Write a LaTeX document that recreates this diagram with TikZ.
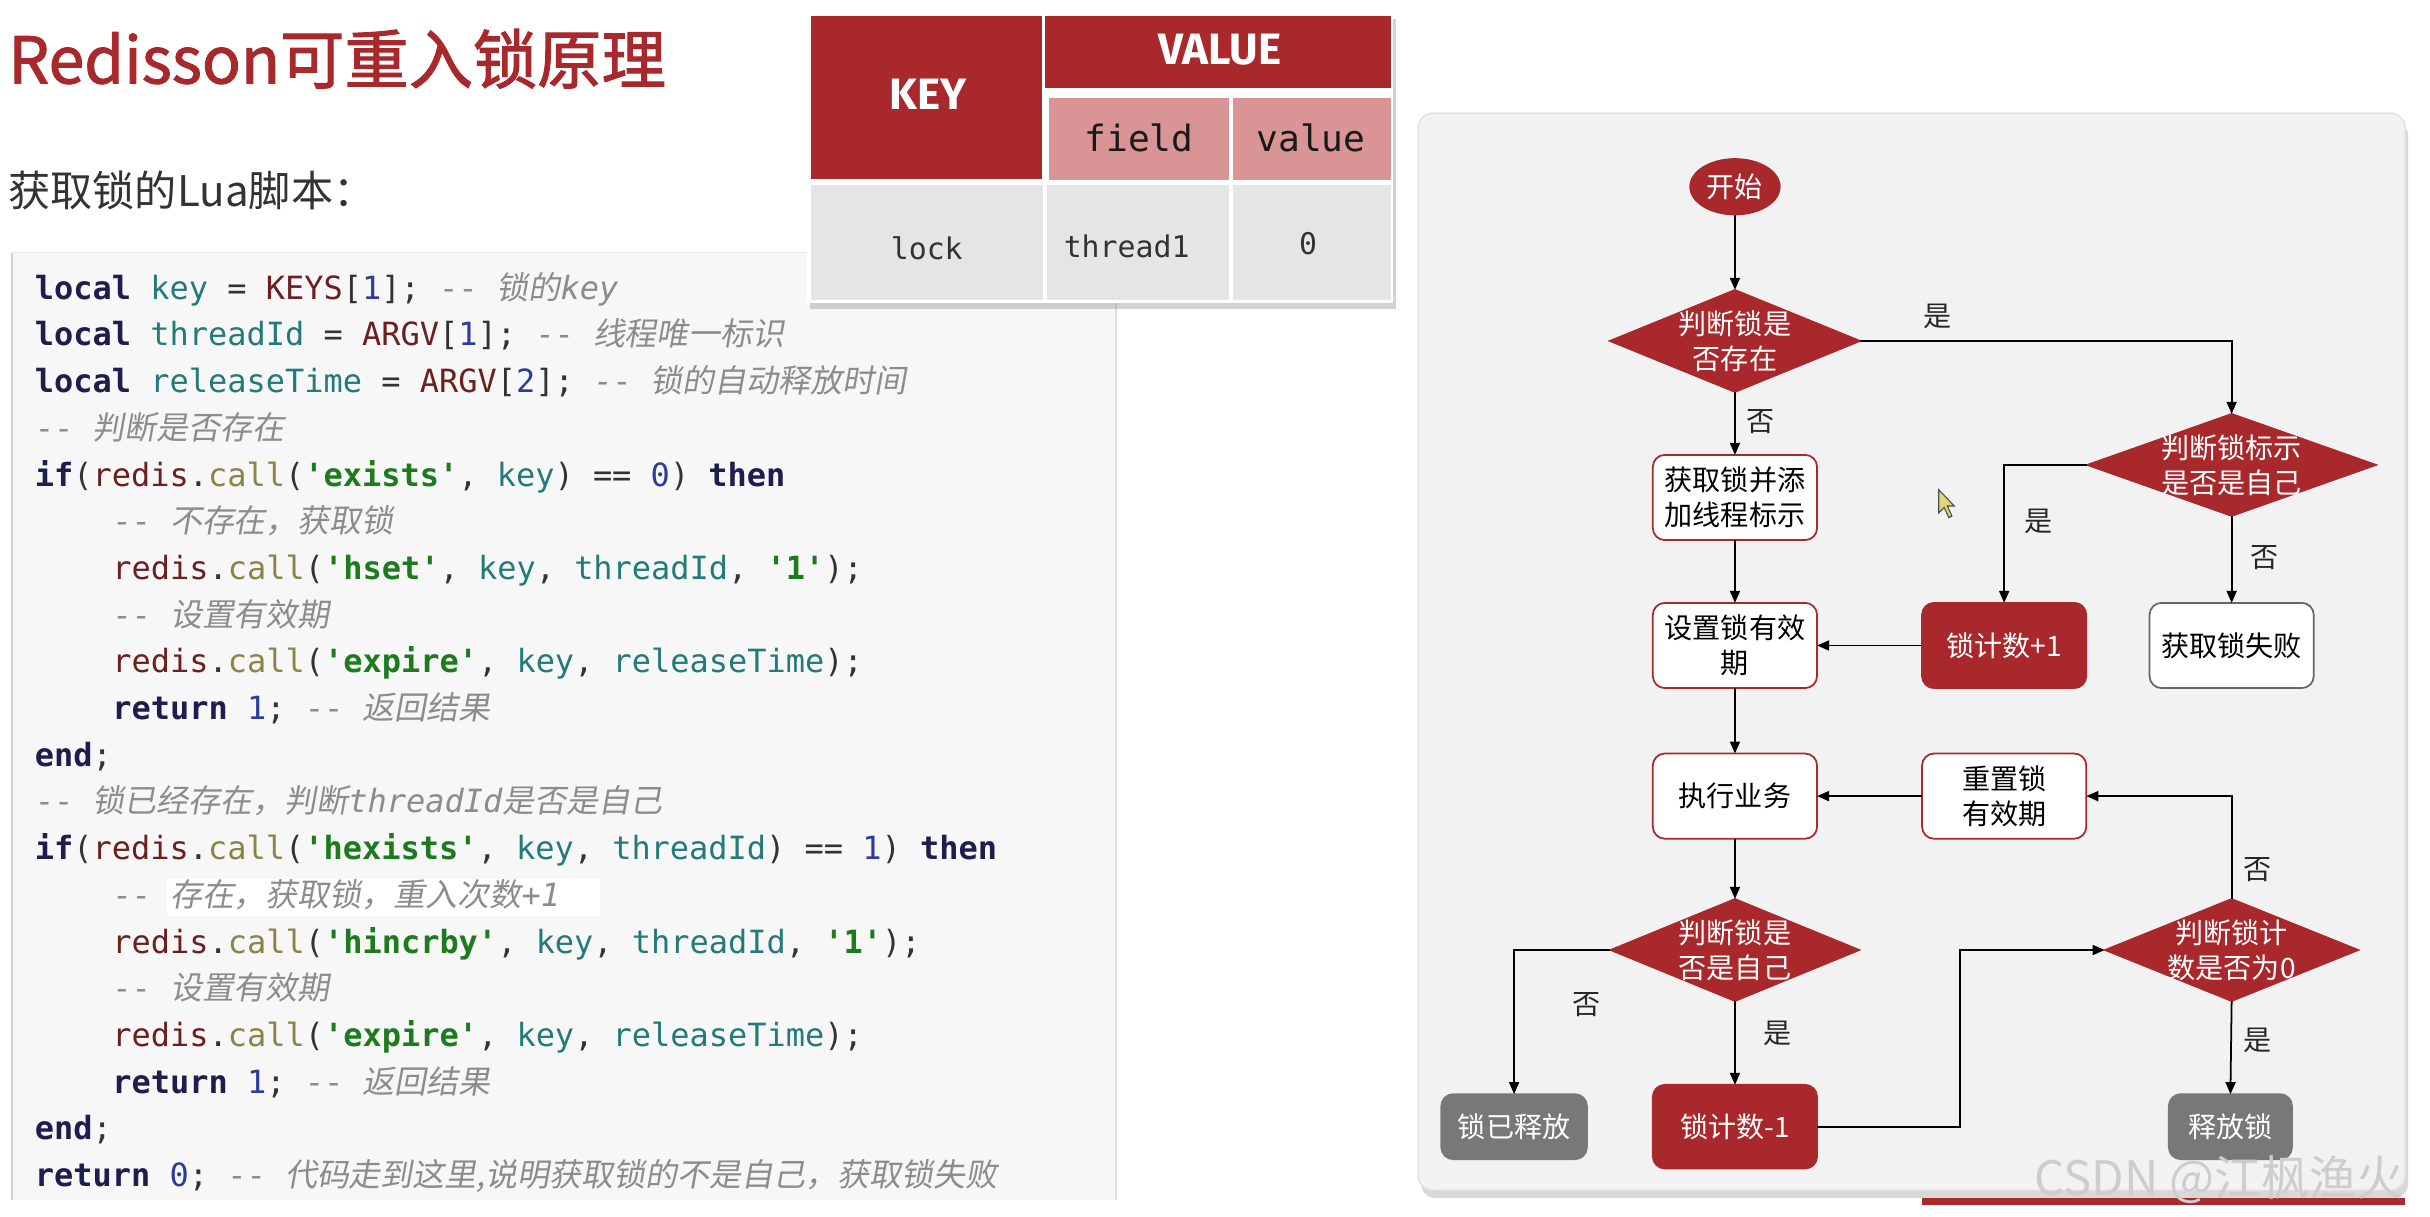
\documentclass[tikz,border=0pt]{standalone}
\usepackage{fontspec}
\setmainfont{Noto Sans CJK SC}
\setmonofont{DejaVu Sans Mono}
\newfontfamily\cjkit{Noto Sans CJK SC}[FakeSlant=0.18]
\newfontfamily\titlef{Noto Sans CJK SC}[FakeBold=1.6]
\newfontfamily\hdrfont{Fira Sans}
\usetikzlibrary{shapes.geometric,arrows.meta,shadows}
\definecolor{rd}{HTML}{A8282C}
\definecolor{pinkc}{HTML}{D99496}
\definecolor{cellg}{HTML}{E5E5E5}
\definecolor{codebg}{HTML}{F7F7F7}
\definecolor{panelbg}{HTML}{F2F2F2}
\definecolor{grayb}{HTML}{787878}
\definecolor{ckw}{HTML}{1E1E4E}
\definecolor{cvar}{HTML}{237A7A}
\definecolor{cfn}{HTML}{6B1F1F}
\definecolor{ccall}{HTML}{8A8445}
\definecolor{cstr}{HTML}{1D7A1D}
\definecolor{cnum}{HTML}{2D3C9C}
\definecolor{ccom}{HTML}{8C8C8C}
\definecolor{cpun}{HTML}{333333}
\newcommand\cdK[1]{\textcolor{ckw}{\bfseries#1}}
\newcommand\cdV[1]{\textcolor{cvar}{#1}}
\newcommand\cdR{\textcolor{cfn}{redis}.\textcolor{ccall}{call}}
\newcommand\cdA[1]{\textcolor{cfn}{#1}}
\newcommand\cdS[1]{\textcolor{cstr}{\bfseries#1}}
\newcommand\cdN[1]{\textcolor{cnum}{#1}}
\newcommand\cdC[1]{\textcolor{ccom}{-{}- #1}}
\newcommand\zh[1]{{\cjkit#1}}
\newcommand\vpx[1]{#1*0.15497mm}
\newcommand\fcfont{\fontsize{8}{10}\selectfont}
\tikzset{
  codeln/.style={anchor=base west, inner sep=0, text=cpun, font=\ttfamily\fontsize{9.1}{11}\selectfont},
  flow/.style={line width=0.5pt, -{Triangle[length=1.2mm,width=1.0mm]}},
  wbox/.style={rectangle, rounded corners=1.2mm, draw=rd, line width=0.5pt, fill=white, inner sep=0, outer sep=0, align=center, font=\fcfont, text=black, minimum width=\vpx{106}, minimum height=\vpx{55}},
  rbox/.style={wbox, fill=rd, text=white},
  gbox/.style={wbox, draw=grayb, fill=grayb, text=white, minimum height=\vpx{42}},
  fbox/.style={wbox, draw=black!60},
  dia/.style={diamond, fill=rd, draw=rd, inner sep=0, outer sep=0, minimum height=\vpx{66}},
  dtext/.style={text=white, align=center, font=\fcfont, inner sep=0},
  lbl/.style={font=\fcfont, text=black!85, inner sep=0},
  thdr/.style={text=white, inner sep=0, font=\hdrfont\bfseries\fontsize{12.5}{14}\selectfont},
  tmono/.style={inner sep=0, font=\ttfamily\fontsize{10.3}{12}\selectfont, text=black!90},
  tdata/.style={inner sep=0, font=\ttfamily\fontsize{8.5}{10}\selectfont, text=black!80},
}
\begin{document}
\begin{tikzpicture}[x=0.015497cm,y=-0.015497cm]
\useasboundingbox (0,0) rectangle (1568,784.7);
\fill[white] (0,0) rectangle (1568,784.7);

% title and subtitle
\node[anchor=base west, inner sep=0, text=rd, font=\titlef\fontsize{18.3}{20}\selectfont] (title) at (5,53.8) {Redisson可重入锁原理};
\node[anchor=base west, inner sep=0, text=black!80, font=\fontsize{12}{14}\selectfont] (sub) at (5,133) {获取锁的Lua脚本：};

% code box
\fill[codebg] (8,163) rectangle (720,774);
\draw[black!18, line width=0.6pt] (8,163) -- (8,774);
\draw[black!12] (720,163) -- (720,774);
\draw[black!8] (8,163) -- (720,163);
\fill[white] (108,567) rectangle (387,591);

\node[codeln] (c1) at (22,193.0) {\cdK{local} \cdV{key} = \cdA{KEYS}[\cdN{1}]; \cdC{\zh{锁的}\textit{key}}};
\node[codeln] (c2) at (22,223.1) {\cdK{local} \cdV{threadId} = \cdA{ARGV}[\cdN{1}]; \cdC{\zh{线程唯一标识}}};
\node[codeln] (c3) at (22,253.3) {\cdK{local} \cdV{releaseTime} = \cdA{ARGV}[\cdN{2}]; \cdC{\zh{锁的自动释放时间}}};
\node[codeln] (c4) at (22,283.4) {\cdC{\zh{判断是否存在}}};
\node[codeln] (c5) at (22,313.6) {\cdK{if}(\cdR(\cdS{'exists'}, \cdV{key}) == \cdN{0}) \cdK{then}};
\node[codeln] (c6) at (72,343.7) {\cdC{\zh{不存在，获取锁}}};
\node[codeln] (c7) at (72,373.8) {\cdR(\cdS{'hset'}, \cdV{key}, \cdV{threadId}, \cdS{'1'});};
\node[codeln] (c8) at (72,404.0) {\cdC{\zh{设置有效期}}};
\node[codeln] (c9) at (72,434.1) {\cdR(\cdS{'expire'}, \cdV{key}, \cdV{releaseTime});};
\node[codeln] (c10) at (72,464.3) {\cdK{return} \cdN{1}; \cdC{\zh{返回结果}}};
\node[codeln] (c11) at (22,494.4) {\cdK{end};};
\node[codeln] (c12) at (22,524.5) {\cdC{\zh{锁已经存在，判断}\textit{threadId}\zh{是否是自己}}};
\node[codeln] (c13) at (22,554.7) {\cdK{if}(\cdR(\cdS{'hexists'}, \cdV{key}, \cdV{threadId}) == \cdN{1}) \cdK{then}};
\node[codeln] (c14) at (72,584.8) {\cdC{\zh{存在，获取锁，重入次数}\textit{+1}}};
\node[codeln] (c15) at (72,615.0) {\cdR(\cdS{'hincrby'}, \cdV{key}, \cdV{threadId}, \cdS{'1'});};
\node[codeln] (c16) at (72,645.1) {\cdC{\zh{设置有效期}}};
\node[codeln] (c17) at (72,675.2) {\cdR(\cdS{'expire'}, \cdV{key}, \cdV{releaseTime});};
\node[codeln] (c18) at (72,705.4) {\cdK{return} \cdN{1}; \cdC{\zh{返回结果}}};
\node[codeln] (c19) at (22,735.5) {\cdK{end};};
\node[codeln] (c20) at (22,765.7) {\cdK{return} \cdN{0}; \cdC{\zh{代码走到这里,说明获取锁的不是自己，获取锁失败}}};

% table
\fill[white, drop shadow={shadow xshift=0.25mm, shadow yshift=-0.6mm, opacity=0.35}] (521,8.5) rectangle (899,195.5);
\fill[rd] (523,10.3) rectangle (672.5,115.5);
\fill[rd] (674.5,10.3) rectangle (897.8,57);
\fill[pinkc] (676.8,63.4) rectangle (792.8,116);
\fill[pinkc] (795.3,63.4) rectangle (897.8,116);
\fill[cellg] (523,119.4) rectangle (673,193.6);
\fill[cellg] (675.5,119.4) rectangle (793.3,193.6);
\fill[cellg] (795.5,119.4) rectangle (897.8,193.6);
\node[thdr] (tkey) at (599,61) {KEY};
\node[thdr] (tval) at (787,32) {VALUE};
\node[tmono] (tfield) at (735,89) {field};
\node[tmono] (tvalue) at (846,89) {value};
\node[tdata] (tlock) at (598,160) {lock};
\node[tdata] (tthr) at (727,159) {thread1};
\node[tdata] (tzero) at (844,157) {0};

% flowchart panel
\path[fill=panelbg, draw=black!12, rounded corners=1.5mm, drop shadow={shadow xshift=0.3mm, shadow yshift=-0.8mm, opacity=0.3}] (915,73) rectangle (1552,768);
\fill[rd] (1240,773) rectangle (1552,777.5);

% nodes
\node[ellipse, fill=rd, draw=rd, inner sep=0, minimum width=\vpx{58}, minimum height=\vpx{36}, text=white, font=\fcfont] (start) at (1119.5,120.5) {开始};
\node[dia, minimum width=\vpx{162}] (d1) at (1119.5,220) {};
\node[dtext] (d1t) at (d1) {判断锁是\\否存在};
\node[wbox] (b1) at (1119.5,321) {获取锁并添\\加线程标示};
\node[wbox] (b2) at (1119.5,416.5) {设置锁有效\\期};
\node[dia, minimum width=\vpx{187}] (d2) at (1440,300) {};
\node[dtext] (d2t) at (d2) {判断锁标示\\是否是自己};
\node[rbox] (inc) at (1293.2,416.5) {锁计数+1};
\node[fbox] (fail) at (1440,416.5) {获取锁失败};
\node[wbox] (exec) at (1119.5,513.7) {执行业务};
\node[wbox] (reset) at (1293.2,513.7) {重置锁\\有效期};
\node[dia, minimum width=\vpx{161}] (d3) at (1119.5,613) {};
\node[dtext] (d3t) at (d3) {判断锁是\\否是自己};
\node[dia, minimum width=\vpx{164}] (d4) at (1440,613) {};
\node[dtext] (d4t) at (d4) {判断锁计\\数是否为0};
\node[gbox, minimum width=\vpx{94}] (rel) at (977,727) {锁已释放};
\node[rbox, minimum height=\vpx{54}] (dec) at (1119.5,727) {锁计数-1};
\node[gbox, minimum width=\vpx{79.5}] (free) at (1439.2,727) {释放锁};

% edges
\draw[flow] (start.south) -- (d1.north);
\draw[flow] (d1.east) -| (d2.north);
\draw[flow] (d1.south) -- (b1.north);
\draw[flow] (b1.south) -- (b2.north);
\draw[flow] (d2.west) -| (inc.north);
\draw[flow] (d2.south) -- (fail.north);
\draw[flow] (inc.west) -- (b2.east);
\draw[flow] (b2.south) -- (exec.north);
\draw[flow] (reset.west) -- (exec.east);
\draw[flow] (exec.south) -- (d3.north);
\draw[flow] (d3.west) -| (rel.north);
\draw[flow] (d3.south) -- (dec.north);
\coordinate (jn) at (1264.6,727);
\draw[flow] (dec.east) -- (jn) |- (d4.west);
\draw[flow] (d4.north) |- (reset.east);
\draw[flow] (d4.south) -- (free.north);

% labels
\node[lbl] (l1) at (1250,204) {是};
\node[lbl] (l2) at (1136,272) {否};
\node[lbl] (l3) at (1315.5,336.5) {是};
\node[lbl] (l4) at (1461,360) {否};
\node[lbl] (l5) at (1024,648) {否};
\node[lbl] (l6) at (1147,667) {是};
\node[lbl] (l7) at (1457,561) {否};
\node[lbl] (l8) at (1457,671.5) {是};

% cursor
\filldraw[fill={rgb,255:red,225;green,215;blue,120}, draw=black!70, line width=0.3pt]
  (1251,316) -- (1251,331) -- (1254.5,327.5) -- (1257.5,334) -- (1259.5,333) -- (1256.5,326.5) -- (1261,326.5) -- cycle;

% watermark
\node[inner sep=0, text={rgb,255:red,205;green,205;blue,205}, font=\fontsize{13.5}{15}\selectfont] (wm) at (1432,761) {CSDN @江枫渔火};
\end{tikzpicture}
\end{document}
